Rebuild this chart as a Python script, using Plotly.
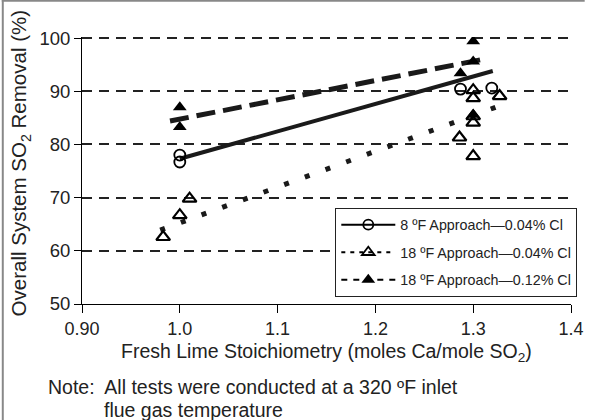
import plotly.graph_objects as go

# Data
circ_x = [1.0, 1.0, 1.287, 1.319]
circ_y = [78.0, 76.7, 90.4, 90.6]

otri_x = [0.983, 1.0, 1.01, 1.286, 1.3, 1.3, 1.3, 1.3, 1.3, 1.327]
otri_y = [62.6, 66.7, 69.8, 81.3, 77.8, 90.2, 88.7, 85.3, 84.1, 89.1]

ftri_x = [1.0, 1.0, 1.3, 1.3, 1.287, 1.3]
ftri_y = [87.0, 83.3, 99.4, 95.6, 93.4, 85.6]

fit8_x = [1.0, 1.32]
fit8_y = [77.3, 93.8]
fit18a_x = [0.98, 1.323]
fit18a_y = [63.9, 87.0]
fit18b_x = [0.99, 1.31]
fit18b_y = [84.4, 96.0]

x_ticks = [0.9, 1.0, 1.1, 1.2, 1.3, 1.4]
x_ticklabels = ["0.90", "1.0", "1.1", "1.2", "1.3", "1.4"]
y_ticks = [50, 60, 70, 80, 90, 100]

names = ["8 \u00baF Approach\u20140.04% Cl",
         "18 \u00baF Approach\u20140.04% Cl",
         "18 \u00baF Approach\u20140.12% Cl"]

FONT = "Liberation Sans, Arial, sans-serif"
TXT = "#222"
fig = go.Figure()

# fitted lines
fig.add_trace(go.Scatter(x=fit8_x, y=fit8_y, mode="lines",
                         line=dict(color="#1a1a1a", width=4), showlegend=False, hoverinfo="skip"))
fig.add_trace(go.Scatter(x=fit18a_x, y=fit18a_y, mode="lines",
                         line=dict(color="#1a1a1a", width=5, dash="5px,17px"), showlegend=False, hoverinfo="skip"))
fig.add_trace(go.Scatter(x=fit18b_x, y=fit18b_y, mode="lines",
                         line=dict(color="#1a1a1a", width=5, dash="19px,8px"), showlegend=False, hoverinfo="skip"))

# data markers
fig.add_trace(go.Scatter(x=circ_x, y=circ_y, mode="markers", showlegend=False, legendgroup="a",
                         marker=dict(symbol="circle-open", size=11, color="black", line=dict(width=1.8))))
fig.add_trace(go.Scatter(x=otri_x, y=otri_y, mode="markers", showlegend=False, legendgroup="b",
                         marker=dict(symbol="triangle-up-open", size=12, color="black", line=dict(width=2.2))))
fig.add_trace(go.Scatter(x=ftri_x, y=ftri_y, mode="markers", showlegend=False, legendgroup="c",
                         marker=dict(symbol="triangle-up", size=12, color="black")))

# legend entries (line + marker samples)
fig.add_trace(go.Scatter(x=[None], y=[None], mode="lines+markers", name=names[0], legendgroup="a",
                         line=dict(color="black", width=2),
                         marker=dict(symbol="circle-open", size=10, color="black", line=dict(width=1.8))))
fig.add_trace(go.Scatter(x=[None], y=[None], mode="lines+markers", name=names[1], legendgroup="b",
                         line=dict(color="black", width=2, dash="4px,5px"),
                         marker=dict(symbol="triangle-up-open", size=11, color="black", line=dict(width=1.8))))
fig.add_trace(go.Scatter(x=[None], y=[None], mode="lines+markers", name=names[2], legendgroup="c",
                         line=dict(color="black", width=2, dash="6px,6px"),
                         marker=dict(symbol="triangle-up", size=12, color="black")))

fig.update_layout(
    width=596, height=420,
    margin=dict(l=82, r=14, t=37, b=116),
    paper_bgcolor="white", plot_bgcolor="white",
    font=dict(family=FONT, color=TXT, size=18),
    showlegend=True,
    legend=dict(x=0.518, y=0.36, xanchor="left", yanchor="top",
                bgcolor="white", bordercolor="#222", borderwidth=1,
                font=dict(size=14.3, family=FONT, color=TXT),
                tracegroupgap=6, itemwidth=54),
    xaxis=dict(range=[0.9, 1.4], tickvals=x_ticks, ticktext=x_ticklabels,
               showgrid=False, zeroline=False, showline=True, linecolor="black", linewidth=1,
               ticks="outside", ticklen=8, tickcolor="black", tickfont=dict(size=18, color=TXT)),
    yaxis=dict(range=[50, 100.2], tickvals=y_ticks,
               showgrid=True, gridcolor="#222", gridwidth=2, griddash="10px,7px",
               zeroline=False, showline=True, linecolor="black", linewidth=1,
               ticks="outside", ticklen=7, tickcolor="black", tickfont=dict(size=18.5, color=TXT)),
    annotations=[
        dict(text="Fresh Lime Stoichiometry (moles Ca/mole SO<sub>2</sub>)", xref="paper", yref="paper",
             x=0.5, y=-0.18, xanchor="center", yanchor="middle", showarrow=False,
             font=dict(size=19.5, family=FONT, color=TXT)),
        dict(text="Overall System SO<sub>2</sub> Removal (%)", xref="paper", yref="paper",
             x=-0.126, y=0.528, xanchor="center", yanchor="middle", textangle=-90, showarrow=False,
             font=dict(size=20.5, family=FONT, color=TXT)),
        dict(text="Note:  All tests were conducted at a 320 \u00baF inlet", xref="paper", yref="paper",
             x=-0.074, y=-0.311, xanchor="left", yanchor="middle", showarrow=False,
             font=dict(size=19.5, family=FONT, color=TXT)),
        dict(text="flue gas temperature", xref="paper", yref="paper",
             x=0.04, y=-0.397, xanchor="left", yanchor="middle", showarrow=False,
             font=dict(size=19.5, family=FONT, color=TXT)),
    ],
    shapes=[
        dict(type="line", xref="paper", yref="paper", x0=-0.162, x1=-0.162, y0=-0.436, y1=1.139,
             line=dict(color="#888", width=2)),
        dict(type="line", xref="paper", yref="paper", x0=-0.164, x1=1.028, y0=1.136, y1=1.136,
             line=dict(color="#888", width=2)),
    ],
)

fig.write_html("out.html", config={"displayModeBar": False},
               post_script="document.body.style.margin='0';document.body.style.overflow='hidden';")
